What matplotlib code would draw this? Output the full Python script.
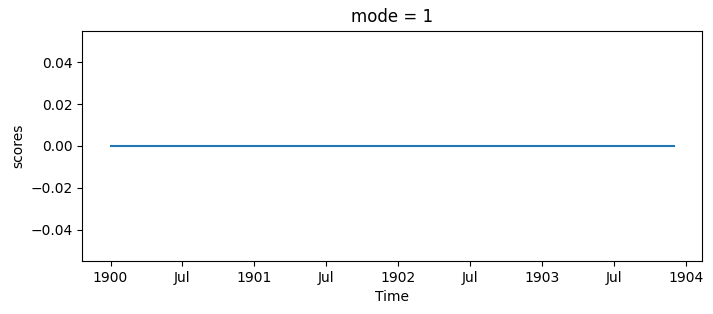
import pandas as pd
import matplotlib
matplotlib.use("Agg")
import matplotlib.pyplot as plt
import matplotlib.dates as mdates
from matplotlib.ticker import FuncFormatter

# ================================================================================
# monthly time axis, 1900-01 .. 1903-12
time_labels=[
  "1900-01","1900-02","1900-03","1900-04","1900-05","1900-06","1900-07","1900-08","1900-09","1900-10","1900-11","1900-12",
  "1901-01","1901-02","1901-03","1901-04","1901-05","1901-06","1901-07","1901-08","1901-09","1901-10","1901-11","1901-12",
  "1902-01","1902-02","1902-03","1902-04","1902-05","1902-06","1902-07","1902-08","1902-09","1902-10","1902-11","1902-12",
  "1903-01","1903-02","1903-03","1903-04","1903-05","1903-06","1903-07","1903-08","1903-09","1903-10","1903-11","1903-12",
]

# scores for mode 1 (all zero)
scores=[
  0.0,0.0,0.0,0.0,0.0,0.0,0.0,0.0,0.0,0.0,0.0,0.0,
  0.0,0.0,0.0,0.0,0.0,0.0,0.0,0.0,0.0,0.0,0.0,0.0,
  0.0,0.0,0.0,0.0,0.0,0.0,0.0,0.0,0.0,0.0,0.0,0.0,
  0.0,0.0,0.0,0.0,0.0,0.0,0.0,0.0,0.0,0.0,0.0,0.0,
]

mode=1

# ================================================================================
times=pd.to_datetime(time_labels).to_pydatetime()

fig=plt.figure(figsize=(7.13,3.14),dpi=100)
ax=fig.add_subplot(1,1,1)
plt.subplots_adjust(left=0.1155,right=0.985,top=0.902,bottom=0.169)

ax.plot(times,scores,color="#1f77b4")

# ticks at Jan / Jul, year shown at January
ax.xaxis.set_major_locator(mdates.MonthLocator(bymonth=[1,7]))
def fmt_date(x,pos=None):
  d=mdates.num2date(x)
  if d.month==1:
    return str(d.year)
  return d.strftime("%b")
ax.xaxis.set_major_formatter(FuncFormatter(fmt_date))

ax.set_title("mode = %d"%mode)
ax.set_xlabel("Time")
ax.set_ylabel("scores")

# ================================================================================
fig.savefig("out.png",dpi=100)
